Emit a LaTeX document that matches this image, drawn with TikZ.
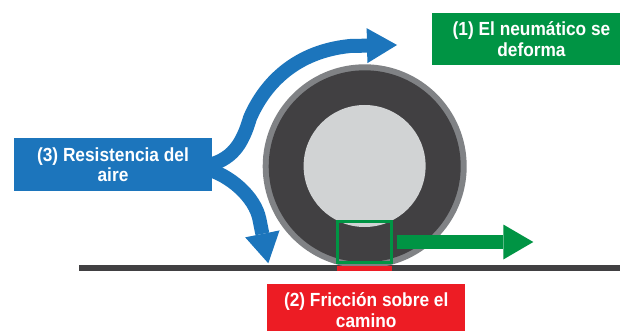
\documentclass[tikz,border=0pt]{standalone}
\usepackage{fontspec}
\newfontfamily\labelfont{Liberation Sans}[FakeStretch=0.91]
\usetikzlibrary{arrows.meta}

\definecolor{airblue}{HTML}{1C75BC}
\definecolor{deformgreen}{HTML}{009444}
\definecolor{frictionred}{HTML}{ED1C24}
\definecolor{tread}{HTML}{414042}
\definecolor{sidewall}{HTML}{808285}
\definecolor{hub}{HTML}{D1D3D4}
\definecolor{roadgray}{HTML}{414042}

\tikzset{
  callout/.style={font=\labelfont\bfseries\fontsize{19}{20.5}\selectfont,
    text=white, align=center, inner sep=0pt, minimum height=52.5pt},
  fatarrow/.style={line width=14pt,
    -{Triangle[length=30pt,width=35pt,line width=0pt]}},
  disc/.style={circle, inner sep=0pt, draw=none},
}

\begin{document}
\begin{tikzpicture}[x=1pt,y=-1pt]
  \useasboundingbox (0,0) rectangle (620,331);
  \fill[white] (0,0) rectangle (620,331);
  \clip (0,0) rectangle (620,331);

  % road surface
  \fill[roadgray] (79,265) rectangle (625,270.7);

  % tyre, flattened where it meets the road
  \begin{scope}
    \clip (0,0) rectangle (620,265);
    \node[disc, fill=sidewall, minimum size=204pt] (tire) at (364.7,166.3) {};
    \node[disc, fill=tread, minimum size=192pt] (tread) at (364.7,166.3) {};
    \node[disc, fill=hub, minimum size=122pt] (hub) at (364.6,166) {};
  \end{scope}

  % contact strip on the road
  \fill[frictionred] (337.3,265.7) rectangle (392,270.7);

  % contact patch and its sliding direction
  \node[draw=deformgreen, line width=3pt, inner sep=0pt,
        minimum width=54.3pt, minimum height=41pt] (patch) at (364.65,242) {};
  \coordinate (slide) at (533.3,242);
  \draw[fatarrow, deformgreen] ([xshift=3.4pt]patch.east) -- (slide);

  % labels
  \node[callout, fill=deformgreen, minimum width=199pt] (deform) at (531.5,39.2)
    {(1) El neumático se\\deforma};
  \node[callout, fill=frictionred, minimum width=197.7pt] (friction) at (366.2,310.25)
    {(2) Fricción sobre el\\camino};
  \node[callout, fill=airblue, minimum width=198pt] (air) at (113,164.5)
    {(3) Resistencia del\\aire};

  % air flow split around the tyre
  \coordinate (airover) at (397,45);
  \coordinate (airunder) at (268.3,263.3);
  \draw[fatarrow, airblue] ([shift={(-7,1.5)}]air.east)
    .. controls (232,160) and (242,145) .. (250,118)
    .. controls (262,90) and (290,52) .. (350,46) -- (airover);
  \draw[fatarrow, airblue] ([shift={(-7,4)}]air.east)
    .. controls (230,175) and (255,197) .. (259.4,219.2) -- (airunder);
\end{tikzpicture}
\end{document}
